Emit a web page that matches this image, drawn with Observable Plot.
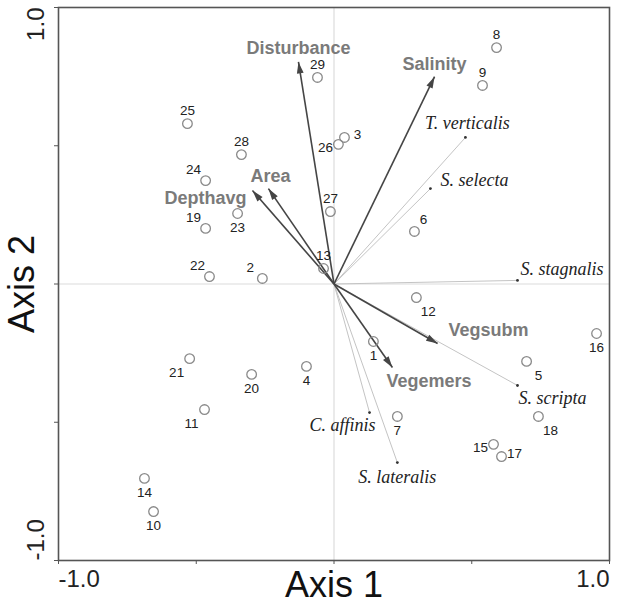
<!DOCTYPE html>
<html>
<head>
<meta charset="utf-8">
<script src="https://cdn.jsdelivr.net/npm/d3@7"></script>
<script src="https://cdn.jsdelivr.net/npm/@observablehq/plot@0.6"></script>
<style>
  html, body { margin: 0; padding: 0; background: #fff; }
  #chart svg { display: block; }
</style>
</head>
<body>
<div id="chart"></div>
<script>
// ---- Data ----
const siteIds = [1,2,3,4,5,6,7,8,9,10,11,12,13,14,15,16,17,18,19,20,21,22,23,24,25,26,27,28,29];
const siteAxis1 = [0.143,-0.260,0.038,-0.100,0.699,0.292,0.230,0.590,0.539,-0.655,-0.470,0.299,-0.038,-0.688,0.579,0.953,0.608,0.742,-0.466,-0.299,-0.524,-0.452,-0.350,-0.466,-0.532,0.016,-0.013,-0.336,-0.060];
const siteAxis2 = [-0.208,0.020,0.530,-0.298,-0.280,0.190,-0.479,0.855,0.718,-0.823,-0.454,-0.049,0.056,-0.703,-0.580,-0.179,-0.624,-0.479,0.201,-0.327,-0.270,0.027,0.255,0.374,0.580,0.505,0.262,0.468,0.747];

const envVars = ["Disturbance","Salinity","Area","Depthavg","Vegsubm","Vegemers"];
const envAxis1 = [-0.129, 0.365, -0.238, -0.296, 0.376, 0.212];
const envAxis2 = [0.803, 0.750, 0.345, 0.338, -0.215, -0.302];

const species = ["T. verticalis","S. selecta","S. stagnalis","S. scripta","C. affinis","S. lateralis"];
const spAxis1 = [0.477, 0.350, 0.666, 0.666, 0.129, 0.230];
const spAxis2 = [0.530, 0.345, 0.013, -0.367, -0.465, -0.646];

const axisTicks = [-1, -0.5, 0, 0.5, 1];
const xTitle = "Axis 1";
const yTitle = "Axis 2";

// ---- Label placement (style) ----
const siteLabelGroups = {
  N:  [25,28,29,8,9,27,13],
  S:  [23,1,16,7,4,20,14,10],
  NW: [24,19,22,2],
  NE: [6],
  E:  [3,17],
  W:  [26,15],
  SE: [12,5,18],
  SW: [21,11]
};
const siteLabelOffsets = {
  N: [0,-13], S: [0,14], NW: [-12,-11], NE: [9,-12], E: [13,-3], W: [-13,3], SE: [12,14], SW: [-13,14]
};
const envLabelStyle = {
  "Disturbance": {dx: 0, dy: -14, anchor: "middle"},
  "Salinity":    {dx: 0, dy: -12, anchor: "middle"},
  "Area":        {dx: 2, dy: -12, anchor: "middle"},
  "Depthavg":    {dx: -6, dy: 8, anchor: "end"},
  "Vegsubm":     {dx: 11, dy: -13, anchor: "start"},
  "Vegemers":    {dx: -6, dy: 14, anchor: "start"}
};
const spLabelStyle = {
  "T. verticalis": {dx: 2, dy: -14, anchor: "middle"},
  "S. selecta":    {dx: 10, dy: -8, anchor: "start"},
  "S. stagnalis":  {dx: 3, dy: -11, anchor: "start"},
  "S. scripta":    {dx: 1, dy: 13, anchor: "start"},
  "C. affinis":    {dx: 6, dy: 13, anchor: "end"},
  "S. lateralis":  {dx: 0, dy: 15, anchor: "middle"}
};

// ---- Tables ----
const sites = siteIds.map((id, i) => ({id, x: siteAxis1[i], y: siteAxis2[i]}));
const env = envVars.map((name, i) => ({name, x: envAxis1[i], y: envAxis2[i]}));
const sp = species.map((name, i) => ({name, x: spAxis1[i], y: spAxis2[i]}));

const headSymbol = {
  draw(ctx) {
    ctx.moveTo(0, 0);
    ctx.lineTo(-3.4, 11.5);
    ctx.lineTo(3.4, 11.5);
    ctx.closePath();
  }
};

const sans = "'Liberation Sans', Arial, Helvetica, sans-serif";
const serif = "'Liberation Serif', 'Times New Roman', serif";

const siteLabelMarks = Object.entries(siteLabelGroups).map(([k, ids]) =>
  Plot.text(sites.filter(d => ids.includes(d.id)), {
    x: "x", y: "y", text: d => String(d.id),
    dx: siteLabelOffsets[k][0], dy: siteLabelOffsets[k][1],
    fontSize: 13.5, fill: "#222", fontFamily: sans
  })
);

const envLabelMarks = env.map(d => Plot.text([d], {
  x: "x", y: "y", text: "name",
  dx: envLabelStyle[d.name].dx, dy: envLabelStyle[d.name].dy,
  textAnchor: envLabelStyle[d.name].anchor,
  fontSize: 18, fontWeight: "bold", fill: "#7a7a7a", fontFamily: sans
}));

const spLabelMarks = sp.map(d => Plot.text([d], {
  x: "x", y: "y", text: "name",
  dx: spLabelStyle[d.name].dx, dy: spLabelStyle[d.name].dy,
  textAnchor: spLabelStyle[d.name].anchor,
  fontSize: 18, fontStyle: "italic", fill: "#222", fontFamily: serif
}));

const chart = Plot.plot({
  width: 619,
  height: 603,
  marginLeft: 58,
  marginRight: 10,
  marginTop: 7,
  marginBottom: 43,
  x: {domain: [-1, 1]},
  y: {domain: [-1, 1]},
  style: {fontFamily: sans, background: "#fff", color: "#222"},
  marks: [
    Plot.ruleX([0], {stroke: "#dcdcdc", strokeWidth: 1.2}),
    Plot.ruleY([0], {stroke: "#dcdcdc", strokeWidth: 1.2}),
    // species vectors
    Plot.link(sp, {x1: () => 0, y1: () => 0, x2: "x", y2: "y", stroke: "#c4c4c4", strokeWidth: 1}),
    Plot.dot(sp, {x: "x", y: "y", r: 1.4, fill: "#333"}),
    // environmental vectors
    Plot.link(env, {x1: () => 0, y1: () => 0, x2: "x", y2: "y", stroke: "#454545", strokeWidth: 1.6}),
    Plot.dot(env, {x: "x", y: "y", symbol: headSymbol, r: 4, fill: "#454545",
      rotate: d => Math.atan2(d.x * 275.5, d.y * 276.5) * 180 / Math.PI}),
    // sites
    Plot.dot(sites, {x: "x", y: "y", r: 4.8, stroke: "#8a8a8a", strokeWidth: 1.3, fill: "none"}),
    ...siteLabelMarks,
    ...envLabelMarks,
    ...spLabelMarks,
    // axes: ticks
    Plot.axisX({ticks: axisTicks, tickSize: 4, tickFormat: () => "", label: null, stroke: "#555"}),
    Plot.axisY({ticks: axisTicks, tickSize: 4, tickFormat: () => "", label: null, stroke: "#555"}),
    // axes: end labels
    Plot.axisX({ticks: [-1], tickSize: 0, tickPadding: 9, tickFormat: d => d.toFixed(1), textAnchor: "start", fontSize: 24, label: null, fill: "#222"}),
    Plot.axisX({ticks: [1], tickSize: 0, tickPadding: 9, tickFormat: d => d.toFixed(1), textAnchor: "end", fontSize: 24, label: null, fill: "#222"}),
    Plot.axisY({ticks: [1], tickSize: 0, tickPadding: 22, tickFormat: d => d.toFixed(1), rotate: -90, textAnchor: "end", fontSize: 24, label: null, fill: "#222"}),
    Plot.axisY({ticks: [-1], tickSize: 0, tickPadding: 22, tickFormat: d => d.toFixed(1), rotate: -90, textAnchor: "start", fontSize: 24, label: null, fill: "#222"}),
    // axis titles
    Plot.axisX({ticks: [], label: xTitle, labelAnchor: "center", labelArrow: "none", labelOffset: 36, fontSize: 36, fill: "#111"}),
    Plot.axisY({ticks: [], label: yTitle, labelAnchor: "center", labelArrow: "none", labelOffset: 50, fontSize: 36, fill: "#111"}),
    Plot.frame({stroke: "#555", strokeWidth: 1.6})
  ]
});
document.getElementById("chart").appendChild(chart);
</script>
</body>
</html>
